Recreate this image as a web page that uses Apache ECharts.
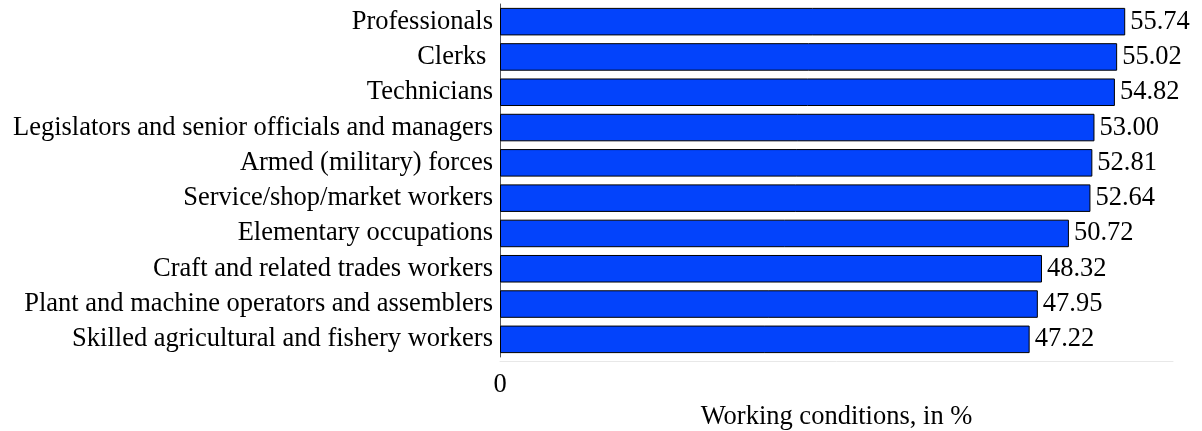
<!DOCTYPE html>
<html><head><meta charset="utf-8">
<script src="https://cdn.jsdelivr.net/npm/echarts@6/dist/echarts.min.js"></script>
<style>html,body{margin:0;padding:0;background:#fff}#c{width:1202px;height:431px}</style>
</head><body><div id="c"></div>
<script>
const categories = ["Professionals","Clerks ","Technicians","Legislators and senior officials and managers","Armed (military) forces","Service/shop/market workers","Elementary occupations","Craft and related trades workers","Plant and machine operators and assemblers","Skilled agricultural and fishery workers"];
const values = [55.74,55.02,54.82,53.00,52.81,52.64,50.72,48.32,47.95,47.22];
const axisName = "Working conditions, in %";
const font = "'Liberation Serif','Times New Roman',serif";
const fs = 26.5;
const chart = echarts.init(document.getElementById('c'));
chart.setOption({
  animation:false,
  grid:{left:500,right:29,top:4,bottom:74,containLabel:false,outerBoundsMode:'none'},
  xAxis:{type:'value',min:0,max:60,interval:60,offset:4,
    axisLine:{show:true,lineStyle:{color:'#e8e8e8',width:1}},
    axisTick:{show:false},splitLine:{show:false},
    axisLabel:{fontFamily:font,fontSize:fs,color:'#000',margin:11,
      formatter:v=>v===0?'0':''},
    name:axisName,nameLocation:'middle',nameGap:35,
    nameTextStyle:{fontFamily:font,fontSize:fs,color:'#000'}},
  yAxis:{type:'category',data:categories,inverse:true,
    axisLine:{show:true,lineStyle:{color:'#555',width:1}},
    axisTick:{show:false},
    axisLabel:{fontFamily:font,fontSize:fs,color:'#000',margin:7,interval:0}},
  series:[{type:'bar',data:values,barCategoryGap:'22%',
    itemStyle:{color:'#0343fb',borderColor:'#000',borderWidth:1},
    label:{show:true,position:'right',distance:5,fontFamily:font,fontSize:fs,color:'#000',
      formatter:p=>p.value.toFixed(2)}}]
});
</script></body></html>
